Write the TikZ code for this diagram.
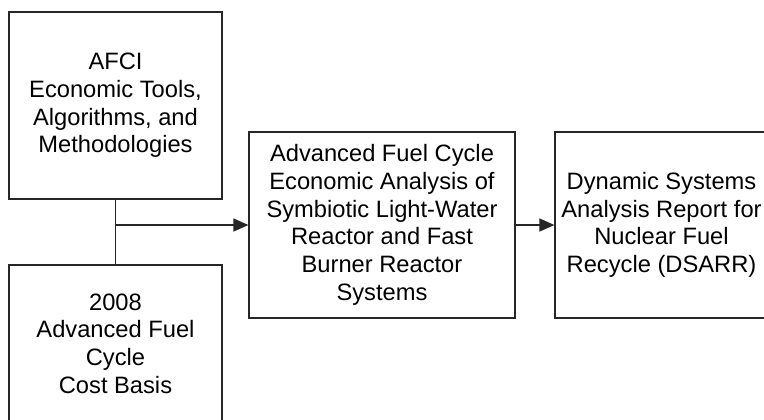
\documentclass[tikz,border=0pt]{standalone}
\usepackage{fontspec}
\setmainfont{Liberation Sans}
\usetikzlibrary{arrows.meta}

\begin{document}
\begin{tikzpicture}[x=0.5pt, y=0.5pt,
    docbox/.style={draw=black!85, line width=0.6pt, inner sep=0pt, align=center,
        font=\fontsize{11.85}{13.85}\selectfont},
    flow/.style={draw=black!85, line width=0.6pt, -{Triangle[length=7.5pt, width=6.5pt]}}]
            \clip (0,0) rectangle (764,419);
            \fill[white] (0,0) rectangle (764,419);

            \node[docbox, minimum width=106.5pt, minimum height=93.5pt] (tools) at (115.5,313.5)
                {AFCI\\Economic Tools,\\Algorithms, and\\Methodologies};
            \node[docbox, minimum width=106.5pt, minimum height=78.5pt] (basis) at (115.5,75.5)
                {2008\\Advanced Fuel\\Cycle\\Cost Basis};
            \node[docbox, minimum width=133pt, minimum height=93pt] (analysis) at (382,194)
                {Advanced Fuel Cycle\\Economic Analysis of\\Symbiotic Light-Water\\Reactor and Fast\\Burner Reactor\\Systems};
            \node[docbox, minimum width=106.5pt, minimum height=93pt] (dsarr) at (661.5,194)
                {Dynamic Systems\\Analysis Report for\\Nuclear Fuel\\Recycle (DSARR)};

            \path (tools.south |- analysis.west) coordinate (join);

            \draw[black!85, line width=0.6pt] (tools.south) -- (basis.north);
            \draw[flow] (join) -- (analysis.west);
            \draw[flow] (analysis.east) -- (dsarr.west);
        \end{tikzpicture}
\end{document}
